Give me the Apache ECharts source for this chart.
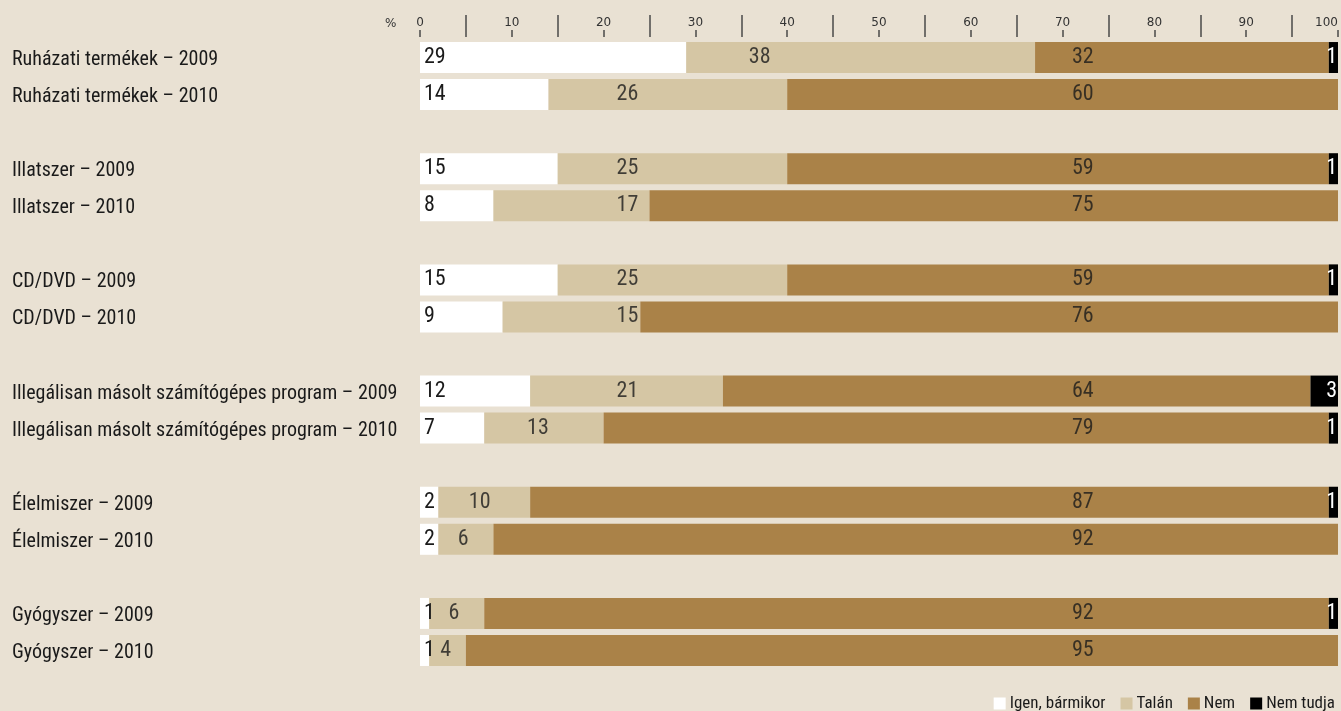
<!DOCTYPE html>
<html>
<head>
<meta charset="utf-8">
<script src="https://cdn.jsdelivr.net/npm/echarts@6/dist/echarts.min.js"></script>
<style>
  html, body { margin: 0; padding: 0; background: #e9e1d3; }
  #chart { width: 1341px; height: 711px; }
</style>
</head>
<body>
<div id="chart"></div>
<script>
// termékcsoportok, évek
var products = ['Ruházati termékek', 'Illatszer', 'CD/DVD', 'Illegálisan másolt számítógépes program', 'Élelmiszer', 'Gyógyszer'];
var years = ['2009', '2010'];

// értékek sorrendben: termék 2009, termék 2010, ...
var igen = [29, 14, 15, 8, 15, 9, 12, 7, 2, 2, 1, 1];
var talan = [38, 26, 25, 17, 25, 15, 21, 13, 10, 6, 6, 4];
var nem = [32, 60, 59, 75, 59, 76, 64, 79, 87, 92, 92, 95];
var nemTudja = [1, 0, 1, 0, 1, 0, 3, 1, 1, 0, 1, 0];

var legendNames = ['Igen, bármikor', 'Talán', 'Nem', 'Nem tudja'];

var FONT = "'Roboto Condensed', 'DejaVu Sans Condensed', sans-serif";
var TXT = '#1a1a1a';
var NEM_LABEL_AT = 72.2;   // a "Nem" számok oszlopa
var TALAN_LABEL_AT = 22.6; // a "Talán" számok oszlopa, ha belefér

// kategóriák üres elválasztó sorral a csoportok között
var cats = [];
var rowIdx = [];
products.forEach(function (p, i) {
    years.forEach(function (y) {
        rowIdx.push(cats.length);
        cats.push(p + ' – ' + y);
    });
    if (i < products.length - 1) cats.push('');
});

function spread(values) {
    var out = cats.map(function () { return null; });
    values.forEach(function (v, k) { out[rowIdx[k]] = v; });
    return out;
}

var talanLabels = talan.map(function (v, k) {
    var s = igen[k], e = igen[k] + v;
    var x = (TALAN_LABEL_AT >= s + 1.2 && TALAN_LABEL_AT <= e - 1.2) ? TALAN_LABEL_AT : s + Math.min(8, v * 0.45);
    return { value: [x, rowIdx[k]], text: v };
});
var nemLabels = nem.map(function (v, k) {
    return { value: [NEM_LABEL_AT, rowIdx[k]], text: v };
});

var myChart = echarts.init(document.getElementById('chart'));

var labelBase = { show: true, fontFamily: FONT, fontSize: 22, color: TXT };

var option = {
    backgroundColor: '#e9e1d3',
    animation: false,
    title: {
        text: '%', left: 380, top: 13,
        textStyle: { fontFamily: 'DejaVu Sans', fontSize: 12, fontWeight: 'normal', color: '#333' }
    },
    legend: {
        data: legendNames,
        right: 1, bottom: -6,
        icon: 'rect', itemWidth: 12, itemHeight: 12, itemGap: 15,
        textStyle: { fontFamily: FONT, fontSize: 17, color: TXT, padding: [2, 0, 0, -1] }
    },
    grid: { left: 420, right: 2, top: 39, bottom: 42 },
    xAxis: {
        type: 'value', position: 'top', min: 0, max: 100, interval: 10, offset: 2,
        axisLine: { show: false },
        axisTick: { show: true, length: 7, lineStyle: { color: '#4a4a4a', width: 1.5 } },
        minorTick: { show: true, splitNumber: 2, length: 22, lineStyle: { color: '#4a4a4a', width: 1.5 } },
        splitLine: { show: false },
        axisLabel: { fontFamily: 'DejaVu Sans', fontSize: 12, color: '#333', margin: 8, alignMaxLabel: 'right', showMaxLabel: true }
    },
    yAxis: {
        type: 'category', inverse: true, data: cats,
        axisLine: { show: false }, axisTick: { show: false },
        axisLabel: {
            align: 'left', margin: 408,
            formatter: function (v) { return v ? '{r|' + v + '}' : ''; },
            rich: { r: { fontFamily: FONT, fontSize: 20, color: TXT, padding: [5, 0, 0, 0] } }
        }
    },
    series: [
        {
            name: 'Igen, bármikor', type: 'bar', stack: 'all', barWidth: 31,
            itemStyle: { color: '#ffffff' },
            label: Object.assign({}, labelBase, { position: 'insideLeft', distance: 4 }),
            data: spread(igen)
        },
        {
            name: 'Talán', type: 'bar', stack: 'all', barWidth: 31,
            itemStyle: { color: '#d5c6a4' },
            data: spread(talan)
        },
        {
            name: 'Nem', type: 'bar', stack: 'all', barWidth: 31,
            itemStyle: { color: '#aa8248' },
            data: spread(nem)
        },
        {
            name: 'Nem tudja', type: 'bar', stack: 'all', barWidth: 31,
            itemStyle: { color: '#000000' },
            label: Object.assign({}, labelBase, {
                position: 'insideRight', distance: 1, color: '#ffffff',
                formatter: function (p) { return p.value ? p.value : ''; }
            }),
            data: spread(nemTudja)
        },
        {
            name: 'talanLabels', type: 'scatter', symbolSize: 0, silent: true,
            label: Object.assign({}, labelBase, { position: 'inside', formatter: function (p) { return p.data.text; } }),
            data: talanLabels
        },
        {
            name: 'nemLabels', type: 'scatter', symbolSize: 0, silent: true,
            label: Object.assign({}, labelBase, { position: 'inside', formatter: function (p) { return p.data.text; } }),
            data: nemLabels
        }
    ]
};

myChart.setOption(option);
</script>
</body>
</html>
